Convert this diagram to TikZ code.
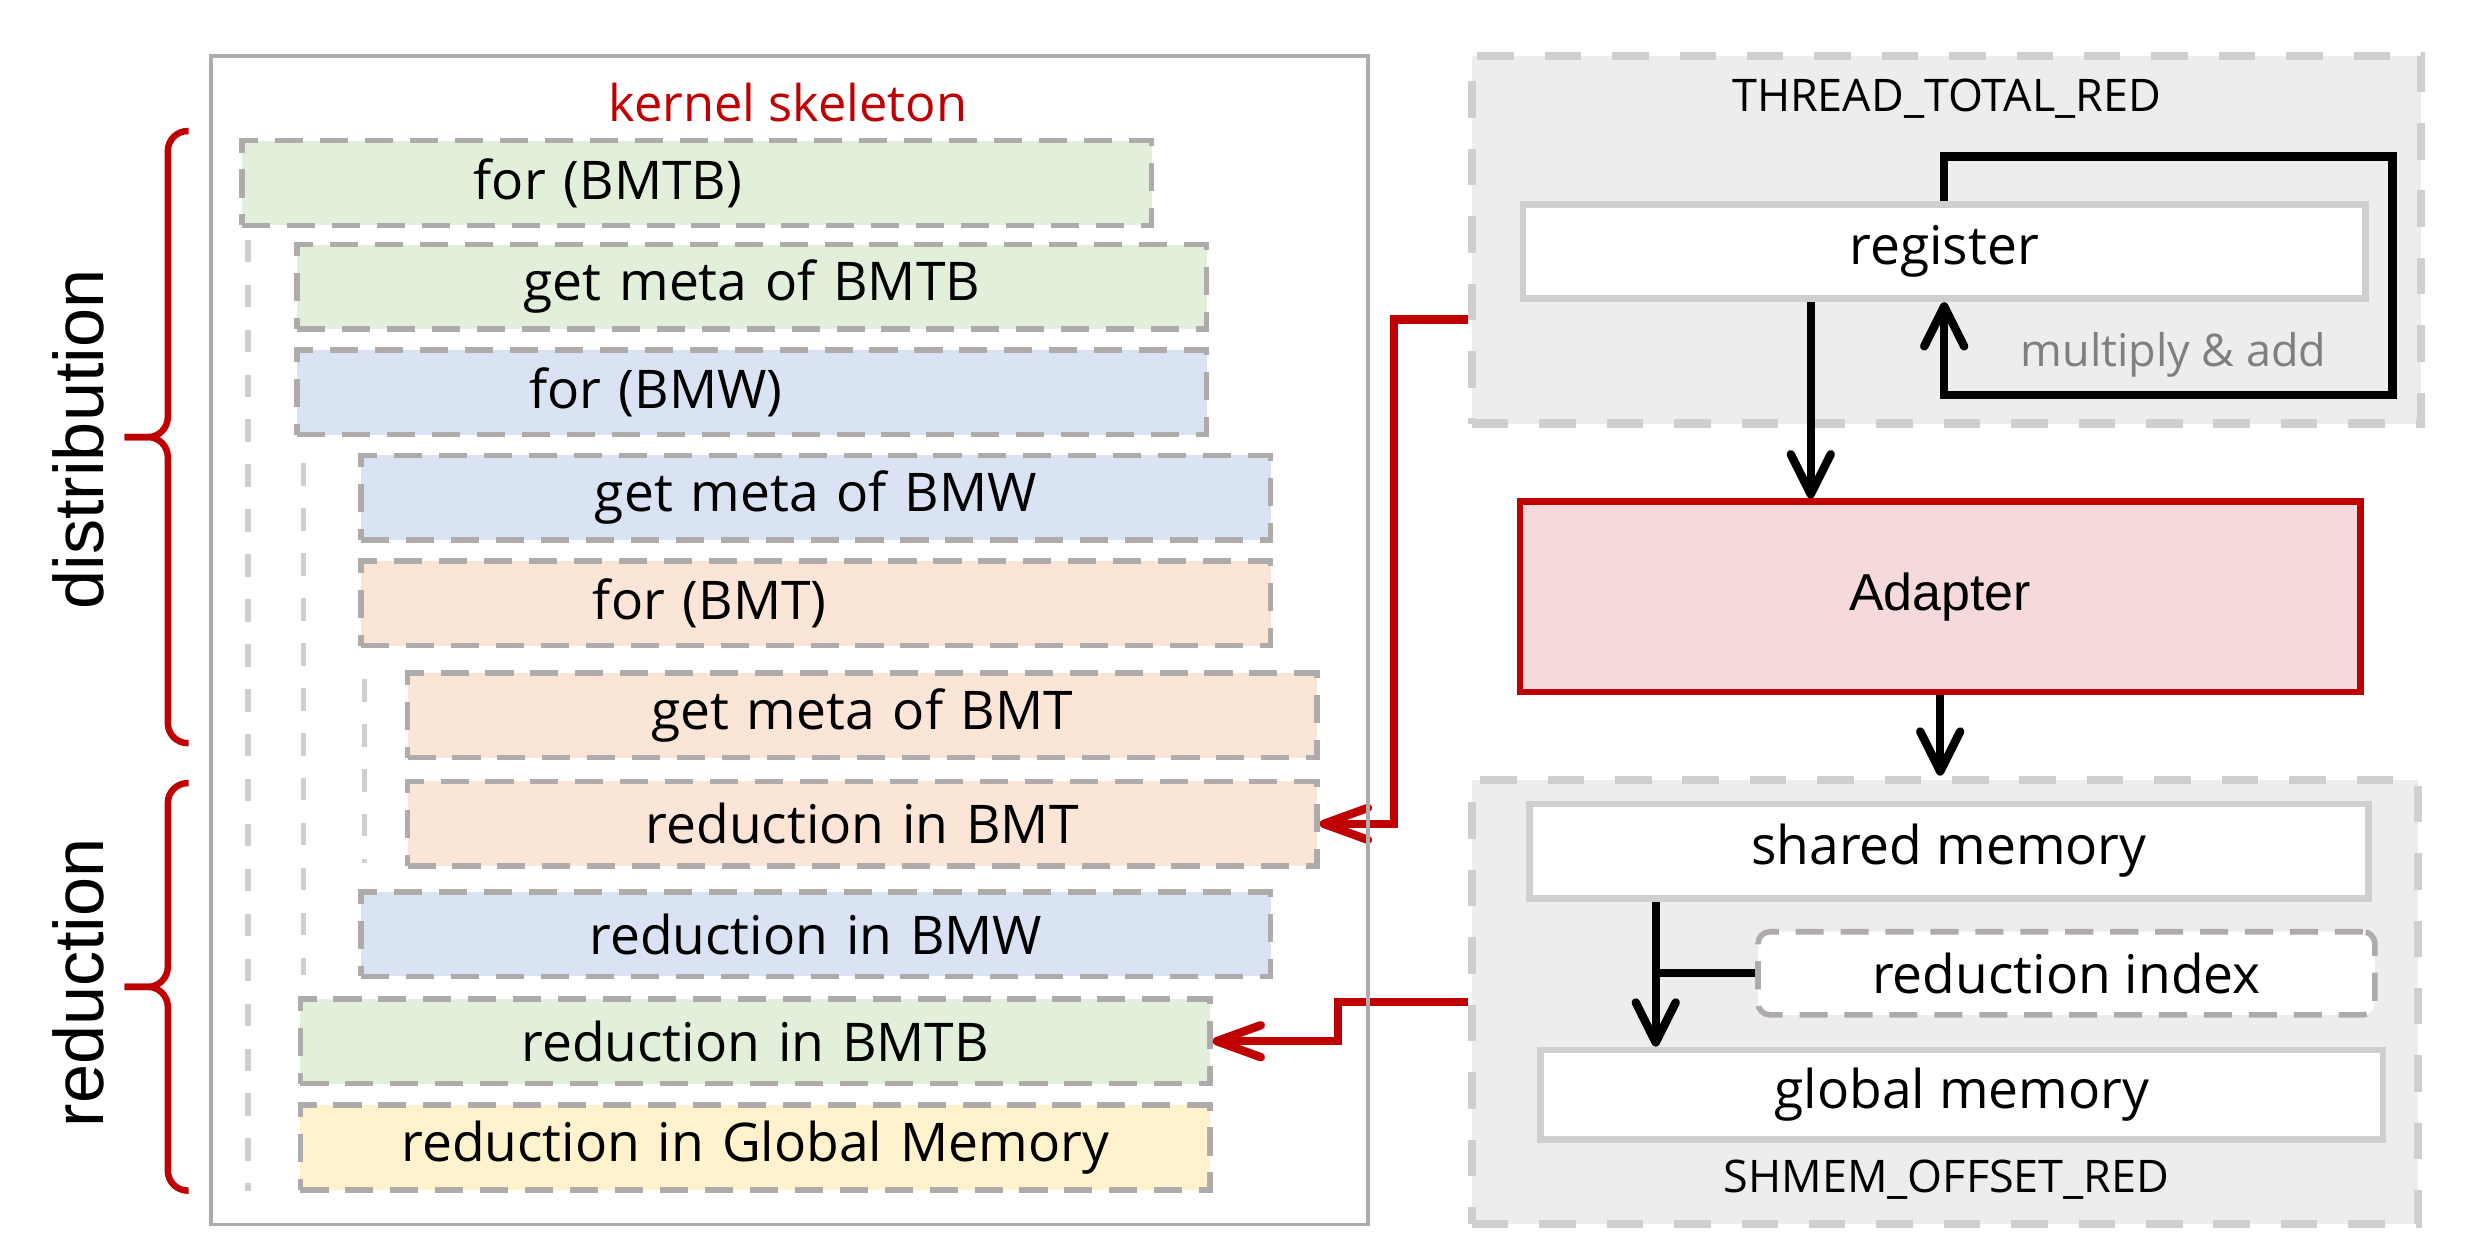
\documentclass[tikz,border=0pt]{standalone}
\usepackage{fontspec}
\setmainfont{Open Sans}
\newfontfamily\arialfont{Liberation Sans}
\usetikzlibrary{arrows.meta}
\usetikzlibrary{calc}
\definecolor{greenfill}{HTML}{E2EFDA}
\definecolor{bluefill}{HTML}{DAE3F3}
\definecolor{orangefill}{HTML}{FBE5D6}
\definecolor{yellowfill}{HTML}{FFF2CC}
\definecolor{dashgray}{HTML}{AFABAB}
\definecolor{lightgray}{HTML}{D0CECE}
\definecolor{panelgray}{HTML}{EDEDED}
\definecolor{darkred}{HTML}{C00000}
\definecolor{adapterpink}{HTML}{F5D9DB}
\definecolor{notegray}{HTML}{7F7F7F}
\tikzstyle{stepbox}=[
      rectangle,
      draw = dashgray,
      line width = 2pt,
      dash pattern = on 10pt off 6pt,
      minimum height = 1.06cm,
      text width = 11.38cm,
      inner xsep = 0pt,
      align = center,
      font = \fontsize{19}{22}\selectfont
      ]
\tikzstyle{forbox}=[
      stepbox,
      align = left
      ]
\tikzstyle{panel}=[
      rectangle,
      fill = panelgray,
      draw = lightgray,
      line width = 3pt,
      dash pattern = on 13pt off 11pt
      ]
\tikzstyle{membox}=[
      rectangle,
      fill = white,
      draw = lightgray,
      line width = 2.4pt,
      minimum height = 1.18cm,
      font = \fontsize{19}{22}\selectfont
      ]
\tikzstyle{guideline}=[
      draw = lightgray,
      line width = 2pt,
      dash pattern = on 8pt off 8pt
      ]
\tikzstyle{bracket}=[
      draw = darkred,
      line width = 2.3pt,
      rounded corners = 0.25cm
      ]
\tikzstyle{blackarrow}=[
      draw = black,
      line width = 3pt,
      -{Straight Barb[length=0.5cm,width=0.5cm,round]}
      ]
\tikzstyle{redarrow}=[
      draw = darkred,
      line width = 3pt,
      -{Straight Barb[length=0.55cm,width=0.4cm,round]}
      ]

\begin{document}
\begin{tikzpicture}
\useasboundingbox (0,0) rectangle (30.96,15.48);

% kernel skeleton
\node [forbox, fill=greenfill] (forbmtb) at (8.72,13.19) {\hspace*{2.9cm}for (BMTB)};
\node [stepbox, fill=greenfill] (metabmtb) at (9.41,11.89) {get meta of BMTB};
\node [forbox, fill=bluefill] (forbmw) at (9.41,10.57) {\hspace*{2.9cm}for (BMW)};
\node [stepbox, fill=bluefill] (metabmw) at (10.21,9.25) {get meta of BMW};
\node [forbox, fill=orangefill] (forbmt) at (10.21,7.93) {\hspace*{2.9cm}for (BMT)};
\node [stepbox, fill=orangefill] (metabmt) at (10.79,6.53) {get meta of BMT};
\node [stepbox, fill=orangefill] (redbmt) at (10.79,5.17) {reduction in BMT};
\node [stepbox, fill=bluefill] (redbmw) at (10.21,3.79) {reduction in BMW};
\node [stepbox, fill=greenfill] (redbmtb) at (9.45,2.45) {reduction in BMTB};
\node [stepbox, fill=yellowfill] (redglobal) at (9.45,1.12) {reduction in Global Memory};

\draw [guideline] (3.1,12.48) -- (3.1,0.58);
\draw [guideline] (3.8,9.68) -- (3.8,3.28);
\draw [guideline] (4.56,6.98) -- (4.56,4.68);

\node [text=darkred, font=\fontsize{18}{21}\selectfont] (skeletonname) at (9.86,14.2) {kernel skeleton};

% braces
\draw [bracket] (2.36,13.84) -- (2.1,13.84) -- (2.1,10.01) -- (1.56,10.01);
\draw [bracket] (1.56,10.01) -- (2.1,10.01) -- (2.1,6.18) -- (2.36,6.18);
\draw [bracket] (2.36,5.68) -- (2.1,5.68) -- (2.1,3.13) -- (1.56,3.13);
\draw [bracket] (1.56,3.13) -- (2.1,3.13) -- (2.1,0.58) -- (2.36,0.58);
\node [rotate=90, font=\arialfont\fontsize{25}{30}\selectfont] (distlabel) at (0.98,9.98) {distribution};
\node [rotate=90, font=\arialfont\fontsize{25}{30}\selectfont] (redlabel) at (0.98,3.18) {reduction};

% thread level
\node [panel, minimum width=11.88cm, minimum height=4.6cm] (thread) at (24.36,12.48) {};
\node [font=\fontsize{16}{19}\selectfont] (threadname) at (24.36,14.24) {THREAD\_TOTAL\_RED};
\node [membox, minimum width=10.54cm] (register) at (24.33,12.33) {register};
\coordinate (loopa) at (29.94,13.52);
\coordinate (loopb) at (29.94,10.54);
\draw [blackarrow] (register.north) |- (loopa) -- (loopb) -| (register.south);
\node [text=notegray, font=\fontsize{16}{19}\selectfont] (muladd) at (27.2,11.04) {multiply \& add};

\node [rectangle, fill=adapterpink, draw=darkred, line width=2.4pt, minimum width=10.52cm, minimum height=2.38cm, font=\arialfont\fontsize{18.5}{22}\selectfont] (adapter) at (24.28,8.01) {Adapter};

% shared memory level
\node [panel, minimum width=11.84cm, minimum height=5.56cm] (shmem) at (24.34,2.94) {};
\node [membox, minimum width=10.5cm] (shared) at (24.39,4.83) {shared memory};
\node [rectangle, fill=white, draw=dashgray, line width=2pt, dash pattern=on 10pt off 6pt, rounded corners=0.15cm, minimum width=7.72cm, minimum height=1.04cm, font=\fontsize{19}{22}\selectfont] (index) at (25.86,3.3) {reduction index};
\node [membox, minimum width=10.54cm, minimum height=1.12cm] (global) at (24.55,1.78) {global memory};
\node [font=\fontsize{16}{19}\selectfont] (shmemname) at (24.36,0.72) {SHMEM\_OFFSET\_RED};

\coordinate (regout) at ($(register.south)+(-1.67,0)$);
\draw [blackarrow] (regout) -- (regout |- adapter.north);
\draw [blackarrow] (adapter.south) -- (adapter.south |- shmem.north);
\coordinate (sharedout) at ($(shared.south)+(-3.67,0)$);
\draw [blackarrow] (sharedout) -- (sharedout |- global.north);
\draw [black, line width=3pt] (index.west) -- (sharedout |- index.west);

\draw [redarrow] ([yshift=-1cm]thread.west) -- ++(-0.92,0) |- (redbmt.east);
\draw [redarrow] (shmem.west) -- ++(-1.62,0) |- (redbmtb.east);

\node [draw=dashgray, line width=1.2pt, minimum width=14.48cm, minimum height=14.62cm] (skeleton) at (9.88,7.47) {};
\end{tikzpicture}
\end{document}
